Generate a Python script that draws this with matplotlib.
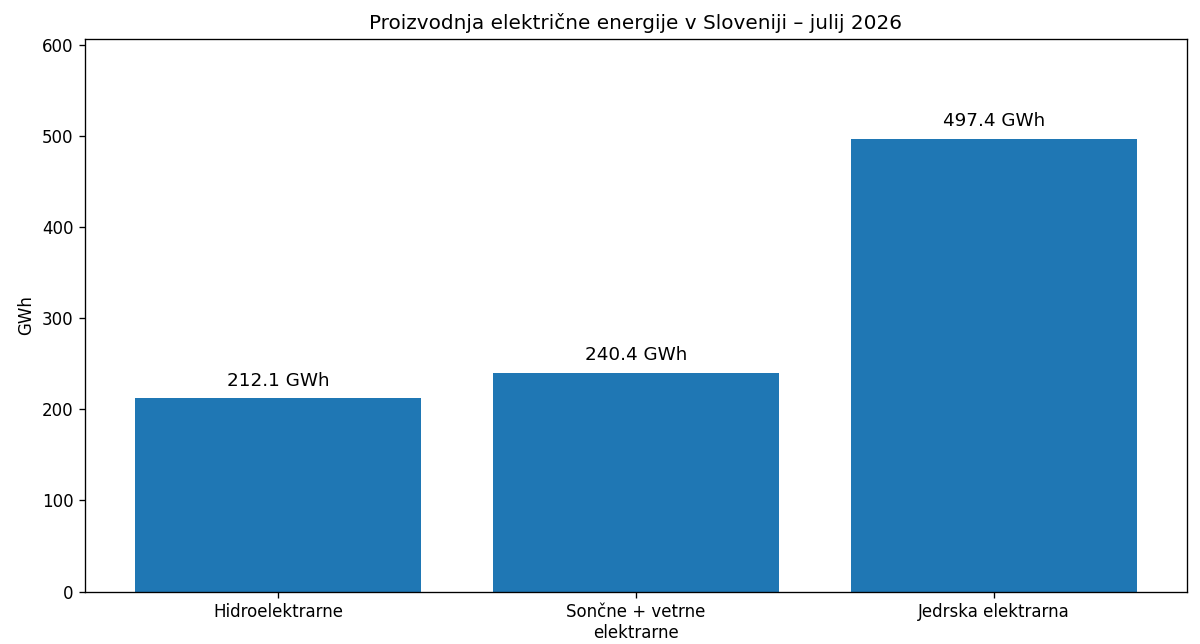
import matplotlib
matplotlib.use("Agg")
import matplotlib.pyplot as plt

categories = ["Hidroelektrarne", "Sončne + vetrne\nelektrarne", "Jedrska elektrarna"]
values = [212.1, 240.4, 497.4]

fig = plt.figure(figsize=(10, 5.3667), dpi=120)
ax = fig.add_axes([0.0708, 0.0815, 0.9183, 0.858])
bars = ax.bar(categories, values, color="#1f77b4", width=0.8)
for b, v in zip(bars, values):
    ax.annotate(f"{v:.1f} GWh", (b.get_x() + b.get_width() / 2, v),
                xytext=(0, 5), textcoords="offset points",
                ha="center", va="bottom", fontsize=11)
ax.set_ylim(0, max(values) * 1.22)
ax.set_ylabel("GWh", fontsize=10)
ax.set_title("Proizvodnja električne energije v Sloveniji – julij 2026", fontsize=12)
ax.tick_params(labelsize=10)
fig.savefig("out.png", dpi=120)
